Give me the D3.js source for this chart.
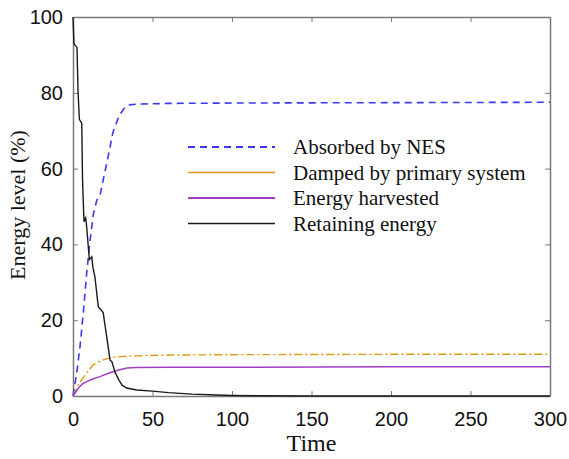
<!DOCTYPE html>
<html>
<head>
<meta charset="utf-8" />
<title>Energy level</title>
<script src="https://d3js.org/d3.v7.min.js"></script>
<style>
body { margin: 0; background: #fff; }
.tick text { font-family: "Liberation Sans", Arial, sans-serif; font-size: 20px; fill: #111; }
.legend text { font-family: "Liberation Serif", "Times New Roman", serif; font-size: 21px; fill: #111; }
.title { font-family: "Liberation Serif", "Times New Roman", serif; fill: #111; }
</style>
</head>
<body>
<div id="graphic"></div>
<script>
// time axis ticks
const xTicks = [0, 50, 100, 150, 200, 250, 300];
const yTicks = [0, 20, 40, 60, 80, 100];

// absorbed by NES (blue dashed)
const nesT = [0, 2.3, 4.4, 6.5, 8.6, 10.7, 12.8, 15, 17, 19, 23, 25, 29, 32, 35, 40, 60, 100, 200, 300];
const nesV = [0, 6, 13, 22, 32.4, 41, 48, 51.7, 53, 57, 65, 69.4, 74, 75.8, 76.8, 77, 77.2, 77.3, 77.4, 77.5];

// damped by primary system (orange dash-dot)
const dampT = [0, 2, 4, 6.3, 9, 12.6, 17, 21, 25, 30, 40, 60, 100, 200, 300];
const dampV = [0, 1.8, 3.5, 4.7, 6.3, 8.2, 9.2, 9.8, 10.2, 10.4, 10.6, 10.8, 10.9, 11, 11];

// energy harvested (purple)
const harvT = [0, 2, 4, 6, 8.6, 12, 17, 21, 25, 30, 34, 40, 60, 100, 200, 300];
const harvV = [0, 1.2, 2.4, 3.2, 3.8, 4.4, 5.1, 5.8, 6.4, 7, 7.4, 7.5, 7.6, 7.6, 7.7, 7.7];

// retaining energy (black)
const retT = [0, 0.6, 1.3, 2.5, 3.2, 4, 5.5, 6, 6.9, 8, 8.6, 10.3, 11.8, 12.5, 13.8, 15.9, 17, 19, 20, 21.2, 23.3, 24.5, 26.4, 28.9, 31, 33.8, 40, 50, 60, 75, 90, 100, 120, 150, 300];
const retV = [100, 93, 92.5, 92, 80, 73, 72, 57, 46, 47, 44.6, 36, 36.7, 34, 31.4, 23.5, 23, 22, 19, 15.6, 9.5, 9, 6.3, 4.2, 2.8, 2.1, 1.6, 1.3, 0.9, 0.5, 0.25, 0.15, 0.05, 0, 0];

const series = [
  { name: "Absorbed by NES", t: nesT, v: nesV, color: "#3a3af0", dash: "7,5", width: 1.6 },
  { name: "Damped by primary system", t: dampT, v: dampV, color: "#e3960f", dash: "8,3,2,3", width: 1.4 },
  { name: "Energy harvested", t: harvT, v: harvV, color: "#a13fc4", dash: null, width: 1.5 },
  { name: "Retaining energy", t: retT, v: retV, color: "#1a1a1a", dash: null, width: 1.4 }
];

const W = 569, H = 459;
const margin = { top: 17, right: 19, bottom: 63, left: 73 };
const width = W - margin.left - margin.right;
const height = H - margin.top - margin.bottom;

const svg = d3.select("#graphic").append("svg")
  .attr("width", W)
  .attr("height", H)
  .append("g")
  .attr("transform", "translate(" + margin.left + "," + margin.top + ")");

const x = d3.scaleLinear().domain([0, 300]).range([0, width]);
const y = d3.scaleLinear().domain([0, 100]).range([height, 0]);

const axisColor = "#7a7a7a";

// axes with inward ticks
const xAxis = svg.append("g")
  .attr("transform", "translate(0," + height + ")")
  .call(d3.axisBottom(x).tickValues(xTicks).tickSizeInner(-5).tickSizeOuter(0).tickPadding(16));
const yAxis = svg.append("g")
  .call(d3.axisLeft(y).tickValues(yTicks).tickSizeInner(-5).tickSizeOuter(0).tickPadding(10));
const xTop = svg.append("g")
  .call(d3.axisTop(x).tickValues(xTicks).tickSizeInner(-5).tickSizeOuter(0).tickFormat(""));
const yRight = svg.append("g")
  .attr("transform", "translate(" + width + ",0)")
  .call(d3.axisRight(y).tickValues(yTicks).tickSizeInner(-5).tickSizeOuter(0).tickFormat(""));

[xAxis, yAxis, xTop, yRight].forEach(g => {
  g.select(".domain").attr("stroke", axisColor).attr("stroke-width", 1.5);
  g.selectAll(".tick line").attr("stroke", axisColor);
});

// curves
const line = d3.line()
  .x(d => x(d[0]))
  .y(d => y(d[1]));

series.forEach(s => {
  const pts = s.t.map((t, i) => [t, s.v[i]]);
  svg.append("path")
    .datum(pts)
    .attr("fill", "none")
    .attr("stroke", s.color)
    .attr("stroke-width", s.width)
    .attr("stroke-dasharray", s.dash)
    .attr("d", line);
});

// legend
const legend = svg.append("g")
  .attr("class", "legend")
  .attr("transform", "translate(115,130)");
series.forEach((s, i) => {
  const row = legend.append("g").attr("transform", "translate(0," + (i * 25.5) + ")");
  row.append("line")
    .attr("x1", 0).attr("x2", 87)
    .attr("stroke", s.color)
    .attr("stroke-width", s.width + 0.3)
    .attr("stroke-dasharray", i === 0 ? "7,5" : null);
  row.append("text")
    .attr("x", 105)
    .attr("dy", "0.35em")
    .text(s.name);
});

// axis titles
svg.append("text")
  .attr("class", "title")
  .attr("x", width / 2)
  .attr("y", height + 55)
  .attr("text-anchor", "middle")
  .style("font-size", "24px")
  .text("Time");

svg.append("text")
  .attr("class", "title")
  .attr("transform", "rotate(-90)")
  .attr("x", -188)
  .attr("y", -48)
  .attr("text-anchor", "middle")
  .style("font-size", "22px")
  .text("Energy level (%)");
</script>
</body>
</html>
